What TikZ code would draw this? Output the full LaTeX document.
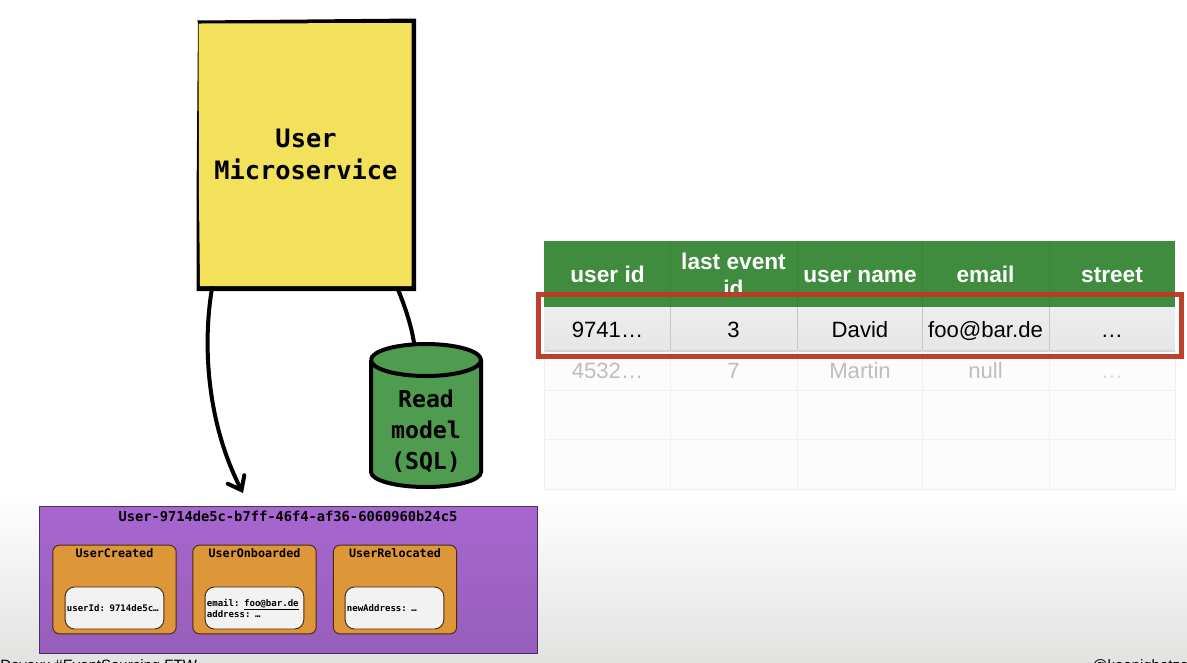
\documentclass[tikz,border=0pt]{standalone}
\usepackage{fontspec}
\setmainfont{Liberation Sans}
\setmonofont{DejaVu Sans Mono}
\usetikzlibrary{arrows.meta,shadings}
\definecolor{yel}{HTML}{F3E15C}
\definecolor{dbgreen}{HTML}{4F9C50}
\definecolor{hdgreen}{HTML}{3F8C3F}
\definecolor{orng}{HTML}{DD9638}
\definecolor{orngline}{HTML}{4A2A10}
\definecolor{purpT}{HTML}{A866D0}
\definecolor{purpB}{HTML}{965FBA}
\definecolor{redbox}{HTML}{BC3A25}
\definecolor{bggray}{HTML}{E2E3E1}
\definecolor{rowT}{HTML}{EDEDED}
\definecolor{rowB}{HTML}{E6E6E6}
\definecolor{faint}{HTML}{BEBEBE}
\definecolor{gridl}{HTML}{F0F1EF}
\definecolor{rowfade}{HTML}{FBFCFB}
\tikzset{
  service/.style={fill=yel,minimum width=162pt,minimum height=200pt,inner sep=0pt,align=center,
    font=\ttfamily\bfseries\fontsize{19}{24}\selectfont},
  conn/.style={line width=3pt,black,line cap=round},
  dbtext/.style={align=center,inner sep=0pt,font=\ttfamily\bfseries\fontsize{17.4}{23.4}\selectfont},
  stream/.style={draw=purpB!50!black,line width=.6pt,top color=purpT,bottom color=purpB,minimum width=373.5pt,minimum height=110pt,inner sep=0pt},
  streamtitle/.style={inner sep=0pt,font=\ttfamily\bfseries\fontsize{10.3}{12}\selectfont},
  evbox/.style={draw=orngline,line width=.7pt,fill=orng,rounded corners=5pt,minimum width=92.5pt,minimum height=66.5pt,inner sep=0pt},
  evtitle/.style={inner sep=0pt,font=\ttfamily\bfseries\fontsize{8.8}{10}\selectfont},
  evbody/.style={draw=orngline,line width=.7pt,fill=white!95!black,rounded corners=7pt,minimum width=74pt,minimum height=31.5pt,
    text width=71.5pt,inner xsep=1.25pt,inner ysep=0pt,align=left,font=\ttfamily\bfseries\fontsize{6.8}{8.3}\selectfont},
  hdcell/.style={inner sep=0pt,anchor=base,text=white,align=center,font=\bfseries\fontsize{17}{19.6}\selectfont},
  rowcell/.style={inner sep=0pt,anchor=base,text=black,font=\fontsize{16.6}{19}\selectfont},
  fadecell/.style={inner sep=0pt,anchor=base,text=faint,font=\fontsize{16.6}{19}\selectfont},
  gridline/.style={gridl,line width=.6pt},
  foot/.style={inner sep=0pt,anchor=base west,text=black,font=\fontsize{11.25}{13}\selectfont},
}
\begin{document}
\begin{tikzpicture}[x=.75pt,y=-.75pt]
\useasboundingbox (0,0) rectangle (1187,662);
\begin{scope}
\clip (0,0) rectangle (1187,662);
% slide background
\fill[white] (0,0) rectangle (1187,490);
\shade[top color=white,bottom color=bggray] (0,490) rectangle (1187,662);
\node[foot] (footl) at (0,670) {Devoxx \#EventSourcing FTW};
\node[foot] (footr) at (1092,670) {@koenighotze};

% user service
\node[service] (svc) at (306,154.5) {};
\fill[black] (197,20.5) -- (416,18.5) -- (416,291) -- (196.7,291) -- (196.5,200) -- (198,22) -- cycle;
\fill[yel] (198.5,23.5) -- (411.5,23) -- (411.5,286) -- (200,286) -- (199,200) -- cycle;
\node[service,fill=none] (svclabel) at (306,154.5) {User\\Microservice};

% read model
\path[fill=dbgreen,draw=black,line width=3pt]
  (371,360) -- (371,472) arc[start angle=180,end angle=0,x radius=55,y radius=15] -- (481,360);
\fill[dbgreen] (371,360) arc[start angle=180,end angle=-180,x radius=55,y radius=16];
\draw[black,line width=3pt] (371,360) arc[start angle=180,end angle=-180,x radius=55,y radius=16];
\node[inner sep=0pt,minimum width=82.5pt,minimum height=108pt] (db) at (426,416) {};
\node[dbtext] (dblabel) at (426,431) {Read\\model\\(SQL)};

% connectors
\coordinate (arrowend) at (243,493);
\draw[conn,-{Straight Barb[length=9pt,width=14pt,line cap=round,line width=3pt]}]
  ([xshift=-70.5pt]svc.south) .. controls +(-10,60) and (208,425) .. (arrowend);
\draw[conn] ([xshift=69pt,yshift=-1pt]svc.south) .. controls +(8,20) and (411,325) .. ([xshift=-9pt,yshift=1pt]db.north);

% event stream
\node[stream] (stream) at (288,580) {};
\node[streamtitle] (streamt) at (288,516) {User-9714de5c-b7ff-46f4-af36-6060960b24c5};
\node[evbox] (e1) at (114.5,589.5) {};
\node[evbox] (e2) at (254.5,589.5) {};
\node[evbox] (e3) at (395,589.5) {};
\node[evtitle] (t1) at (114.5,553) {UserCreated};
\node[evtitle] (t2) at (254.5,553) {UserOnboarded};
\node[evtitle] (t3) at (395,553) {UserRelocated};
\node[evbody] (b1) at (114.5,608) {userId: 9714de5c…};
\node[evbody] (b2) at (254.5,608) {email: \underline{foo@bar.de}\\address: …};
\node[evbody] (b3) at (394.5,608) {newAddress: …};

% table
\fill[rowfade] (544,351) rectangle (1175,489);
\fill[hdgreen] (544,241) rectangle (1175,307);
\shade[top color=rowT,bottom color=rowB] (544,307) rectangle (1175,351);
\fill[rowB!92!black] (544,350.3) rectangle (1175,351.7);
\foreach \cx in {670,797,922,1049}{
  \draw[hdgreen!92!black,line width=.6pt] (\cx,241) -- (\cx,307);
  \draw[black!22,line width=.6pt] (\cx,307) -- (\cx,351);
  \draw[gridline] (\cx,351) -- (\cx,489);
}
\draw[gridline] (544,351) -- (544,489) (1175,351) -- (1175,489)
  (544,390) -- (1175,390) (544,439) -- (1175,439) (544,489) -- (1175,489);

\node[hdcell] (h1) at (607.5,282) {user id};
\begin{scope}
  \clip (670,241) rectangle (797,297);
  \node[hdcell] (h2) at (733.5,296) {last event\\id};
\end{scope}
\node[hdcell] (h3) at (860,282) {user name};
\node[hdcell] (h4) at (985.5,282) {email};
\node[hdcell] (h5) at (1112,282) {street};

\node[rowcell] (r11) at (607.5,337) {9741…};
\node[rowcell] (r12) at (733.5,337) {3};
\node[rowcell] (r13) at (860,337) {David};
\node[rowcell] (r14) at (985.5,337) {foo@bar.de};
\node[rowcell] (r15) at (1112,337) {…};
\node[fadecell] (r21) at (607.5,378) {4532…};
\node[fadecell] (r22) at (733.5,378) {7};
\node[fadecell] (r23) at (860,378) {Martin};
\node[fadecell] (r24) at (985.5,378) {null};
\node[fadecell,text=faint!60!white] (r25) at (1112,378) {…};

% highlight
\draw[redbox,line width=4pt,opacity=.97] (538.7,294.7) rectangle (1181.3,356.7);
\end{scope}
\end{tikzpicture}
\end{document}
